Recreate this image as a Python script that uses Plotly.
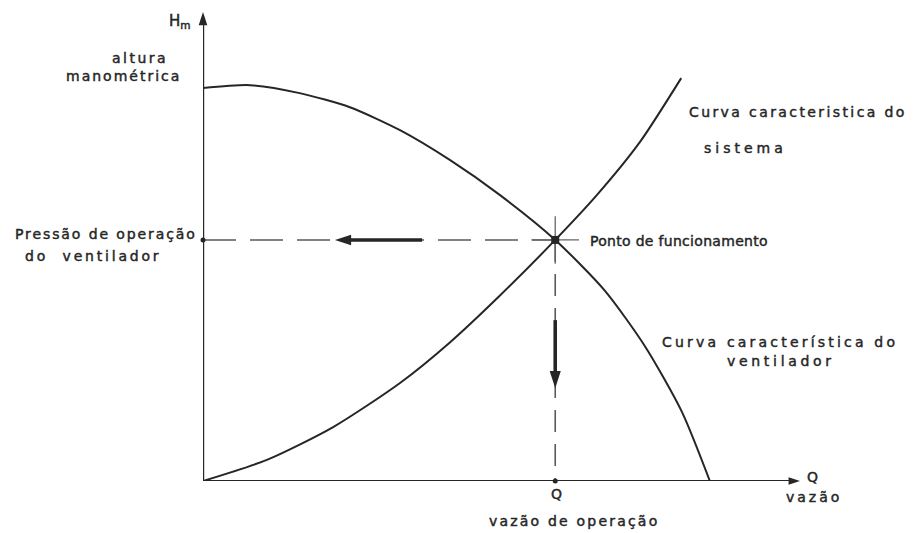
import plotly.graph_objects as go

# ---- data (Q and H in % of axis length) ----
fan_q = [0, 7.9, 16.2, 24.6, 33.0, 41.4, 49.7, 59.0, 67.3, 74.0, 80.2, 84.9]
fan_h = [83.8, 84.4, 82.7, 79.7, 74.8, 68.4, 61.0, 51.4, 40.6, 28.8, 14.8, 0]
sys_q = [0, 10.7, 21.8, 33.0, 41.4, 49.7, 59.0, 66.0, 73.2, 80.1]
sys_h = [0, 4.5, 11.5, 20.9, 29.6, 39.5, 51.4, 61.0, 72.3, 85.9]
op_q = 59.0
op_h = 51.4
# direction arrows on the guide lines (tail, head) in axis units
h_arrow_q = [36.7, 22.1]
v_arrow_h = [34.3, 19.8]

# page body has an 8px margin; figure is sized to fill the rest of the window
OFF = 8
W, H = 914 - OFF, 533 - OFF
L, R, T, B = 195, 114, 4, 52
XR = [0, 100]
YR = [0, 100]
PW = W - L - R
PH = H - T - B
QPX = PW / (XR[1] - XR[0])   # px per axis unit
HPX = PH / (YR[1] - YR[0])


def fx(xs):  # screen px -> paper x
    return (xs - OFF - L) / PW


def fy(ys):  # screen px -> paper y
    return (H - B - (ys - OFF)) / PH


INK = "#262626"
fig = go.Figure()


def line(x, y, color=INK, width=2.0, dash=None, shape="linear"):
    fig.add_trace(go.Scatter(x=x, y=y, mode="lines", cliponaxis=False,
                             line=dict(color=color, width=width, dash=dash,
                                       shape=shape, smoothing=0.7),
                             hoverinfo="skip", showlegend=False))


def head(x, y, angle, size):
    fig.add_trace(go.Scatter(x=[x], y=[y], mode="markers", cliponaxis=False,
                             marker=dict(symbol="arrow", angle=angle, size=size,
                                         color=INK, line=dict(width=0)),
                             hoverinfo="skip", showlegend=False))


# axes with arrow heads
line([0, 0], [0, YR[1] - 9 / HPX], width=2.4)
head(0, YR[1], 0, 14)
line([0, XR[1] - 8 / QPX], [0, 0], width=1.8)
head(XR[1], 0, 90, 12)

# dashed guide lines
line([0, op_q], [op_h, op_h], color="#5a5a5a", width=1.6, dash="33px,14px")
line([op_q, op_q], [op_h, 0], color="#5a5a5a", width=1.6, dash="22px,12px")

# thick direction arrows
line([h_arrow_q[0], h_arrow_q[1] + 12 / QPX], [op_h, op_h], width=3.6)
head(h_arrow_q[1], op_h, -90, 17)
line([op_q, op_q], [v_arrow_h[0], v_arrow_h[1] + 13 / HPX], width=3.6)
head(op_q, v_arrow_h[1], 180, 18)

# characteristic curves
line(fan_q, fan_h, shape="spline")
line(sys_q, sys_h, shape="spline")

# operating point: short cross arms + dark square
fig.add_trace(go.Scatter(x=[op_q], y=[op_h], mode="markers",
                         marker=dict(symbol="cross-thin-open", size=34, color="#666",
                                     line=dict(color="#666", width=1.3)),
                         hoverinfo="skip", showlegend=False))
fig.add_trace(go.Scatter(x=[op_q], y=[op_h], mode="markers",
                         marker=dict(symbol="square", size=8, color=INK),
                         hoverinfo="skip", showlegend=False))
# small ticks on axes
fig.add_trace(go.Scatter(x=[0, op_q], y=[op_h, 0], mode="markers", cliponaxis=False,
                         marker=dict(symbol="circle", size=5, color=INK),
                         hoverinfo="skip", showlegend=False))

ann = []


def label(text, xs, ys, xanchor="left", ls=0.0, size=14):
    text = ('<span style="letter-spacing:%.2fpx;stroke:%s;stroke-width:0.45px">%s</span>'
            % (ls, INK, text))
    ann.append(dict(x=fx(xs), y=fy(ys), xref="paper", yref="paper", text=text,
                    showarrow=False, xanchor=xanchor, yanchor="middle",
                    font=dict(family="DejaVu Sans", size=size, color=INK)))


label("H<sub>m</sub>", 193, 22, xanchor="right", size=15)
label("altura", 110, 58, ls=2.5)
label("manométrica", 183, 76, xanchor="right", ls=2.0)
label("Pressão de operação", 13, 234, ls=1.9)
label("do\u00a0 ventilador", 23, 256, ls=2.8)
label("Ponto de funcionamento", 588, 241, ls=0.3)
label("Curva caracteristica do", 687, 112, ls=2.4)
label("sistema", 702, 148, ls=4.0)
label("Curva característica do", 660, 342, ls=3.2)
label("ventilador", 725, 361, ls=3.7)
label("Q", 556, 494, xanchor="center")
label("vazão de operação", 487, 521, ls=2.2)
label("Q", 805, 477)
label("vazão", 784, 497, ls=3.0)

fig.update_layout(
    width=W, height=H,
    margin=dict(l=L, r=R, t=T, b=B),
    paper_bgcolor="white", plot_bgcolor="white",
    xaxis=dict(range=XR, visible=False, fixedrange=True),
    yaxis=dict(range=YR, visible=False, fixedrange=True),
    annotations=ann,
    showlegend=False,
)

fig.write_html("out.html")
